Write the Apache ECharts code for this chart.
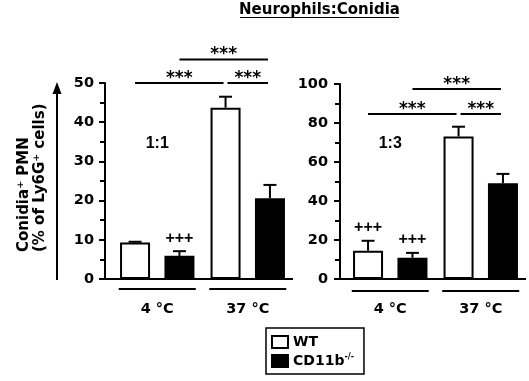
<!DOCTYPE html>
<html>
<head>
<meta charset="utf-8">
<script src="https://cdn.jsdelivr.net/npm/echarts@6/dist/echarts.min.js"></script>
<style>
html,body{margin:0;padding:0;background:#fff;}
#chart{width:529px;height:381px;}
</style>
</head>
<body>
<div id="chart"></div>
<script>
// 数据
var temps = ['4 °C', '37 °C'];
var names = ['WT', 'CD11b-/-'];
var ratios = ['1:1', '1:3'];

// 1:1
var wt11 = [9.3, 43.7];
var wt11Err = [0.2, 2.8];
var ko11 = [5.9, 20.6];
var ko11Err = [1.2, 3.4];
// 1:3
var wt13 = [14.5, 73.1];
var wt13Err = [5.1, 5.0];
var ko13 = [10.9, 49.1];
var ko13Err = [2.5, 4.8];

var yMax = [50, 100];
var yStep = [10, 20];

// bars: 0=WT 4, 1=KO 4, 2=WT 37, 3=KO 37  -> [from, to, y, text]
var sig11 = [[0, 2, 50, '***'], [2, 3, 50, '***'], [1, 3, 56, '***']];
var sig13 = [[0, 2, 84.6, '***'], [2, 3, 84.6, '***'], [1, 3, 97.4, '***']];
// [bar, text]
var plus11 = [[1, '+++']];
var plus13 = [[0, '+++'], [1, '+++']];

var FONT = 'DejaVu Sans';
var FONT2 = 'Liberation Sans';
var barW = 30;
var barGap = 48;
var barOff = barW * (1 + barGap / 100) / 2;
var yOffset = [7, 5];

var chart = echarts.init(document.getElementById('chart'));

function errSeries(p, vals, errs, sign) {
	return {
		type: 'custom', xAxisIndex: p, yAxisIndex: p, z: 3,
		data: vals.map(function (v, i) { return [i, v, v + errs[i]]; }),
		renderItem: function (params, api) {
			var lo = api.coord([api.value(0), api.value(1)]);
			var hi = api.coord([api.value(0), api.value(2)]);
			var x = lo[0] + sign * barOff;
			return {
				type: 'group', children: [
					{ type: 'line', shape: { x1: x, y1: lo[1], x2: x, y2: hi[1] }, style: { stroke: '#000', lineWidth: 2 } },
					{ type: 'line', shape: { x1: x - 6.5, y1: hi[1], x2: x + 6.5, y2: hi[1] }, style: { stroke: '#000', lineWidth: 2 } }
				]
			};
		}
	};
}

function barSeries(p, name, vals, fill) {
	return {
		type: 'bar', name: name, xAxisIndex: p, yAxisIndex: p,
		data: vals, barWidth: barW, barGap: barGap + '%',
		itemStyle: { color: fill, borderColor: '#000', borderWidth: 2 },
		emphasis: { disabled: true }
	};
}

function xAx(p) {
	return {
		type: 'category', gridIndex: p, data: temps,
		axisLine: { show: false }, axisTick: { show: false },
		axisLabel: { margin: 23, color: '#000', fontFamily: FONT, fontWeight: 'bold', fontSize: 14.5 }
	};
}
function yAx(p) {
	return {
		type: 'value', gridIndex: p, min: 0, max: yMax[p], interval: yStep[p], offset: yOffset[p],
		axisLine: { show: true, lineStyle: { color: '#000', width: 2 } },
		axisTick: { show: true, length: 6, lineStyle: { color: '#000', width: 2 } },
		minorTick: { show: true, splitNumber: 2, length: 5, lineStyle: { color: '#000', width: 2 } },
		splitLine: { show: false },
		axisLabel: { margin: p ? 12 : 11, color: '#000', fontFamily: FONT, fontWeight: 'bold', fontSize: 14.5 }
	};
}

chart.setOption({
	animation: false,
	grid: [
		{ left: 112, top: 83, width: 181, height: 196 },
		{ left: 345, top: 84, width: 181, height: 195 }
	],
	xAxis: [xAx(0), xAx(1)],
	yAxis: [yAx(0), yAx(1)],
	legend: {
		orient: 'vertical', left: 266, top: 328, padding: [7, 10, 6, 5], itemGap: 4,
		itemWidth: 16, itemHeight: 12, icon: 'rect',
		borderColor: '#000', borderWidth: 1.5,
		itemStyle: { borderColor: '#000', borderWidth: 2 },
		textStyle: {
			fontFamily: FONT, fontWeight: 'bold', fontSize: 14, color: '#000',
			rich: { sup: { fontFamily: FONT, fontWeight: 'bold', fontSize: 8, color: '#000', padding: [0, 0, 8, 0] } }
		},
		formatter: function (n) { return n === 'WT' ? 'WT' : 'CD11b{sup|-/-}'; },
		data: names
	},
	series: [
		barSeries(0, names[0], wt11, '#fff'),
		barSeries(0, names[1], ko11, '#000'),
		barSeries(1, names[0], wt13, '#fff'),
		barSeries(1, names[1], ko13, '#000'),
		errSeries(0, wt11, wt11Err, -1),
		errSeries(0, ko11, ko11Err, 1),
		errSeries(1, wt13, wt13Err, -1),
		errSeries(1, ko13, ko13Err, 1)
	]
});

// 注释
function barX(p, i) {
	var cx = chart.convertToPixel({ xAxisIndex: p }, temps[i >> 1]);
	return cx + (i % 2 ? 1 : -1) * barOff;
}
function yPx(p, v) {
	return chart.convertToPixel({ yAxisIndex: p }, v);
}
var allVals = [[wt11, ko11, wt11Err, ko11Err], [wt13, ko13, wt13Err, ko13Err]];
function barTop(p, i) {
	var a = allVals[p];
	var t = i >> 1;
	return i % 2 ? a[1][t] + a[3][t] : a[0][t] + a[2][t];
}

var g = [];
var lineSt = { stroke: '#000', lineWidth: 2 };
var grids = [[112, 181], [345, 181]];
var sigs = [sig11, sig13];
var pluses = [plus11, plus13];
var ulGap = [10, 12];

[0, 1].forEach(function (p) {
	var axX = grids[p][0] - yOffset[p];
	var y0 = yPx(p, 0);
	// baseline
	g.push({ type: 'line', shape: { x1: axX - 1, y1: y0, x2: grids[p][0] + grids[p][1], y2: y0 }, style: lineSt });
	// group underlines + ratio text
	temps.forEach(function (t) {
		var cx = chart.convertToPixel({ xAxisIndex: p }, t);
		g.push({ type: 'line', shape: { x1: cx - 38.5, y1: y0 + ulGap[p], x2: cx + 38.5, y2: y0 + ulGap[p] }, style: lineSt });
	});
	g.push({
		type: 'text', x: chart.convertToPixel({ xAxisIndex: p }, temps[0]), y: 144,
		style: { text: ratios[p], fontFamily: FONT2, fontWeight: 'bold', fontSize: 16, fill: '#000', align: 'center', verticalAlign: 'middle' }
	});
	// brackets
	sigs[p].forEach(function (s) {
		var x1 = barX(p, s[0]), x2 = barX(p, s[1]);
		if (s[0] === 2) x1 += 2;
		if (s[1] === 2 || s[1] === 3) x2 -= 2;
		var y = yPx(p, s[2]);
		g.push({ type: 'line', shape: { x1: x1, y1: y, x2: x2, y2: y }, style: lineSt });
		g.push({
			type: 'text', x: (x1 + x2) / 2, y: y + 4,
			style: { text: s[3], fontFamily: FONT, fontWeight: 'bold', fontSize: 17, fill: '#000', align: 'center', verticalAlign: 'bottom' }
		});
	});
	pluses[p].forEach(function (s) {
		g.push({
			type: 'text', x: barX(p, s[0]), y: yPx(p, barTop(p, s[0])) - 13,
			style: { text: s[1], fontFamily: FONT2, fontWeight: 'bold', fontSize: 16, fill: '#000', align: 'center', verticalAlign: 'middle' }
		});
	});
});

// 标题
g.push({
	type: 'text', x: 319.5, y: 10,
	style: { text: 'Neurophils:Conidia', fontFamily: FONT, fontWeight: 'bold', fontSize: 15, fill: '#000', align: 'center', verticalAlign: 'middle' }
});
g.push({ type: 'line', shape: { x1: 240, y1: 17.5, x2: 399, y2: 17.5 }, style: { stroke: '#000', lineWidth: 1.2 } });

// y 轴标题 + 箭头
var yTop = yPx(0, yMax[0]), yBot = yPx(0, 0);
g.push({
	type: 'text', x: 24, y: 252, rotation: Math.PI / 2,
	style: { text: 'Conidia\u207A PMN', fontFamily: FONT, fontWeight: 'bold', fontSize: 15, fill: '#000', align: 'left', verticalAlign: 'middle' }
});
g.push({
	type: 'text', x: 40, y: 252, rotation: Math.PI / 2,
	style: { text: '(% of Ly6G\u207A cells)', fontFamily: FONT, fontWeight: 'bold', fontSize: 15, fill: '#000', align: 'left', verticalAlign: 'middle' }
});
g.push({ type: 'line', shape: { x1: 57, y1: yBot + 1, x2: 57, y2: yTop + 8 }, style: lineSt });
g.push({ type: 'polygon', shape: { points: [[57, yTop - 1], [52.5, yTop + 11], [61.5, yTop + 11]] }, style: { fill: '#000' } });

chart.setOption({ graphic: g });
</script>
</body>
</html>
